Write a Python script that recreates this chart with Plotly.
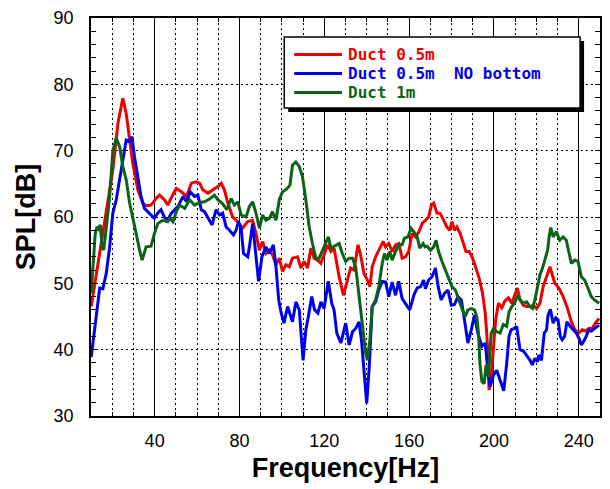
import plotly.graph_objects as go

# ---------------- data ----------------
red_f = [10.1, 12.5, 16.4, 20.3, 22.7, 25.0, 26.6, 28.2, 29.7, 32.1, 34.4, 36.0, 38.3, 40.7, 42.3, 44.6,
         46.2, 47.7, 50.2, 52.6, 55.0, 57.3, 59.6, 61.2, 62.7, 65.1, 67.4, 69.8, 71.4, 72.9, 74.5, 76.8,
         79.2, 81.5, 83.9, 86.2, 87.8, 89.4, 90.9, 92.5, 94.1, 95.6, 97.2, 98.8, 100.3, 101.9, 103.5,
         105.0, 107.4, 109.0, 110.5, 112.1, 113.7, 115.2, 116.8, 118.4, 119.9, 121.5, 123.1, 124.6,
         127.0, 129.0, 130.9, 132.4, 134.0, 135.9, 137.1, 138.7, 140.3, 141.5, 142.6, 144.2, 146.5,
         147.8, 148.9, 150.4, 152.0, 153.6, 155.1, 156.7, 158.3, 159.8, 161.4, 163.0, 164.5, 166.3,
         167.7, 169.2, 170.5, 171.6, 173.1, 174.7, 176.3, 177.8, 179.1, 180.2, 181.4, 182.5, 184.1,
         185.7, 186.8, 188.3, 189.9, 191.5, 193.0, 194.6, 195.9, 196.8, 197.7, 198.7, 199.8, 200.8,
         202.1, 203.7, 205.1, 206.8, 208.4, 210.0, 211.0, 212.3, 213.9, 215.4, 217.0, 218.5, 220.1,
         221.7, 223.2, 224.8, 226.4, 227.5, 228.7, 230.6, 232.6, 234.7, 236.5, 238.1, 240.0, 241.6,
         243.1, 244.7, 246.3, 247.8, 249.6]
red_db = [46.5, 51.5, 59.0, 67.1, 74.1, 77.9, 75.6, 72.1, 68.1, 64.1, 62.1, 61.7, 61.8, 62.8, 63.3, 62.6,
          61.8, 62.8, 64.3, 63.8, 63.1, 65.1, 65.3, 65.1, 64.1, 63.6, 64.1, 64.6, 65.1, 64.1, 62.1, 60.0,
          59.3, 58.3, 59.3, 59.5, 57.5, 55.0, 56.3, 54.5, 55.0, 54.3, 52.8, 53.8, 51.8, 52.8, 52.5,
          53.8, 54.0, 52.3, 53.3, 52.3, 55.3, 53.8, 53.5, 53.0, 54.3, 55.8, 54.8, 55.3,
          51.0, 48.2, 50.5, 52.3, 52.0, 55.8, 54.3, 51.5, 50.5, 49.5, 52.5, 54.0, 55.5,
          56.3, 55.5, 56.0, 54.8, 55.8, 56.0, 53.8, 54.0, 54.8, 57.5, 57.0, 57.7, 59.1,
          59.5, 60.0, 61.8, 62.1, 60.6, 60.5, 59.5, 58.5, 58.0, 59.3, 58.0, 58.5, 57.5,
          56.0, 54.8, 54.8, 53.8, 52.3, 50.8, 48.5, 45.5, 41.5, 33.9, 35.9, 41.0, 44.5,
          47.0, 46.3, 47.3, 47.8, 47.0, 48.5, 49.3, 47.5, 46.7, 46.5, 46.5, 46.7, 46.2,
          47.0, 49.5, 51.0, 52.5, 51.3, 50.0, 49.3, 48.0, 46.2, 44.2, 43.0, 42.5, 43.0,
          42.8, 43.2, 43.2, 44.0, 44.7]

blue_f = [10.1, 12.5, 14.1, 15.6, 17.2, 18.8, 20.3, 21.9, 23.5, 25.0, 26.6, 28.2, 29.3, 30.5, 32.1, 33.6,
          35.2, 37.6, 39.9, 41.5, 43.0, 44.6, 46.2, 47.7, 49.4, 51.0, 53.4, 55.0, 56.8, 58.8, 60.4, 62.0,
          63.5, 65.1, 67.1, 69.0, 70.6, 72.1, 73.7, 75.3, 77.2, 78.4, 79.5, 80.8, 81.9, 83.9, 84.7,
          86.2, 87.5, 89.0, 90.6, 92.5, 94.1, 96.0, 97.2, 98.5, 99.7, 101.0, 102.7, 103.8, 105.0,
          106.6, 108.2, 110.0, 111.3, 112.5, 114.1, 115.4, 117.0, 118.4, 119.9, 121.9, 123.5, 124.6,
          125.9, 127.8, 130.1, 131.7, 133.3, 134.8, 136.4, 137.5, 138.7, 140.0, 141.2, 142.6, 144.2,
          145.7, 147.3, 148.9, 150.4, 152.0, 153.6, 155.1, 156.7, 158.3, 160.3, 162.2, 163.8, 165.4,
          166.8, 167.7, 169.2, 170.8, 172.4, 173.7, 175.1, 176.7, 178.3, 179.9, 181.4, 183.0, 184.6,
          186.1, 187.7, 189.3, 190.8, 192.4, 194.3, 195.9, 197.1, 198.2, 199.8, 201.3, 202.7, 204.6,
          206.0, 207.1, 208.1, 209.6, 210.7, 212.3, 213.9, 215.4, 217.0, 218.1, 219.3, 220.5, 221.2,
          222.4, 223.7, 224.8, 225.5, 226.6, 227.9, 229.1, 230.2, 231.3, 232.2, 233.3, 234.4, 236.0,
          237.2, 238.8, 240.1, 241.2, 242.2, 243.5, 244.7, 245.9, 247.4, 249.6]
blue_db = [38.9, 45.5, 49.3, 49.2, 51.5, 55.5, 60.6, 62.6, 65.6, 68.1, 71.6, 71.4, 72.1, 69.1, 65.6, 63.1,
           61.3, 60.6, 59.8, 60.6, 61.1, 60.0, 59.5, 60.5, 61.0, 61.6, 63.1, 62.3, 63.8, 63.1, 63.3, 61.1,
           60.8, 60.0, 58.8, 61.1, 60.3, 60.6, 58.5, 58.0, 57.3, 58.0, 59.3, 58.3, 54.5, 54.0, 55.5,
           59.0, 55.0, 50.3, 54.0, 55.5, 54.5, 55.8, 52.5, 47.5, 45.5, 44.0, 46.5, 45.2, 44.2,
           47.2, 46.0, 38.4, 43.0, 45.0, 48.0, 46.0, 45.5, 47.2, 46.2, 50.3, 47.0, 46.0,
           42.5, 41.0, 44.0, 40.7, 42.7, 43.2, 44.2, 41.5, 36.4, 31.9, 37.4, 46.5, 47.2,
           49.0, 50.3, 50.2, 48.0, 50.2, 48.2, 50.3, 47.7, 47.0, 46.0, 48.2, 49.3, 49.5,
           50.5, 49.2, 50.5, 51.0, 52.3, 49.5, 47.5, 48.5, 49.0, 46.7, 46.8, 48.0, 47.5,
           44.5, 41.0, 43.0, 45.2, 42.5, 40.5, 41.0, 36.9, 34.4, 36.2, 36.9, 35.6, 33.8,
           37.9, 42.0, 43.0, 43.2, 43.5, 40.0, 39.8, 39.2, 38.4, 37.7, 38.7, 38.2, 39.2,
           38.4, 42.5, 43.0, 45.2, 46.1, 44.0, 44.8, 44.5, 42.0, 41.5, 42.0, 44.2, 43.5,
           43.0, 42.5, 41.7, 40.7, 41.2, 42.0, 43.0, 42.8, 43.2, 43.7]

green_f = [10.1, 11.0, 12.0, 12.8, 13.6, 14.4, 15.2, 16.0, 16.8, 17.6, 18.8, 20.3, 21.9, 23.5, 25.0, 26.6,
           28.2, 29.7, 31.3, 32.9, 34.1, 36.0, 38.3, 39.9, 41.5, 43.8, 46.2, 47.1, 48.7, 50.2, 51.8,
           54.2, 56.5, 58.8, 61.2, 63.5, 65.9, 68.2, 69.8, 72.1, 74.0, 76.1, 77.6, 79.2, 80.8, 83.1,
           84.7, 86.2, 87.8, 89.4, 90.9, 92.5, 94.1, 95.6, 97.2, 98.8, 100.3, 102.2, 103.8, 105.0,
           106.6, 108.2, 109.7, 111.3, 112.9, 114.4, 116.0, 117.6, 119.1, 120.7, 121.9, 123.1, 124.6,
           127.0, 128.5, 130.1, 131.7, 133.3, 134.8, 136.4, 138.0, 139.5, 140.3, 141.5, 142.6, 144.2,
           145.7, 147.3, 148.4, 149.6, 150.9, 152.0, 153.6, 155.1, 156.7, 157.8, 159.4, 160.9, 162.2,
           163.8, 165.0, 166.6, 167.5, 168.5, 170.1, 171.6, 172.7, 173.9, 175.5, 177.1, 178.6, 180.2,
           181.8, 183.3, 184.9, 186.5, 187.7, 189.3, 190.8, 191.9, 192.7, 193.4, 194.3, 195.4, 196.3,
           197.4, 198.7, 199.8, 201.3, 202.9, 204.4, 206.0, 207.1, 208.4, 210.0, 211.2, 212.3, 213.9,
           215.4, 217.0, 218.2, 219.3, 220.5, 221.7, 222.9, 224.0, 225.3, 226.0, 226.8, 227.9, 229.4,
           231.0, 232.6, 234.1, 235.2, 236.5, 238.1, 239.6, 241.2, 242.7, 244.3, 245.9, 247.4, 249.6]
green_db = [48.5, 52.5, 57.5, 58.5, 58.2, 58.8, 55.5, 55.0, 57.0, 59.5, 63.1, 70.0, 71.9, 70.6, 67.6, 65.6,
            62.1, 60.0, 57.5, 55.0, 53.5, 55.5, 55.6, 57.5, 59.0, 59.5, 59.3, 59.8, 59.3, 60.8, 61.8,
            61.3, 62.6, 61.8, 62.2, 62.3, 62.7, 63.3, 62.6, 62.0, 61.1, 62.8, 61.8, 62.3, 60.3, 60.0,
            61.6, 62.3, 60.6, 58.3, 60.3, 59.5, 59.8, 60.8, 59.5, 62.6, 63.8, 64.2, 64.8, 67.8,
            68.3, 67.6, 66.1, 62.6, 58.5, 56.0, 53.8, 53.8, 55.0, 56.3, 57.0, 55.3, 55.6,
            56.0, 54.5, 53.3, 53.8, 53.8, 52.5, 48.0, 43.5, 39.5, 38.4, 41.5, 46.5, 47.5,
            49.5, 53.0, 54.5, 53.5, 54.8, 53.5, 54.8, 55.8, 55.8, 56.8, 57.0, 58.3, 57.8,
            57.0, 55.3, 56.0, 55.5, 55.6, 55.0, 55.5, 56.5, 54.8, 53.3, 52.0, 51.0, 49.5,
            49.0, 47.5, 46.2, 45.0, 46.0, 46.2, 46.0, 45.0, 42.5, 37.9, 35.2, 34.9, 37.7,
            35.9, 42.5, 43.2, 42.7, 42.5, 43.8, 43.5, 45.7, 46.5, 47.2, 48.2, 47.5, 47.0,
            47.2, 46.5, 46.2, 47.5, 49.5, 51.3, 52.3, 53.5, 55.0, 57.0, 58.4, 57.0, 57.8,
            56.5, 57.0, 56.5, 54.8, 53.0, 53.5, 53.3, 51.0, 50.5, 49.3, 48.0, 47.5, 47.0]

series_names = ["Duct 0.5m", "Duct 0.5m\u00a0\u00a0NO bottom", "Duct 1m"]
series_colors = ["#ee0000", "#0000ee", "#0b6416"]
series_x = [red_f, blue_f, green_f]
series_y = [red_db, blue_db, green_db]

x_range = [10, 250]
y_range = [30, 90]

# ---------------- figure ----------------
fig = go.Figure()
for name, col, xs, ys in zip(series_names, series_colors, series_x, series_y):
    fig.add_trace(go.Scatter(x=xs, y=ys, mode="lines", name=name,
                             line=dict(color=col, width=3), showlegend=False))

W, H = 610, 489
ML, MR, MT, MB = 91, 8, 18, 73
PW, PH = W - ML - MR, H - MT - MB


def px2paper(px, py):
    return (px - ML) / PW, (H - MB - py) / PH


tickfont = dict(family="Liberation Sans, Arial", size=18, color="black")
titlefont = dict(family="Liberation Sans, Arial", size=27, color="black", weight="bold")

fig.update_layout(
    width=W, height=H,
    margin=dict(l=ML, r=MR, t=MT, b=MB, pad=0),
    paper_bgcolor="white", plot_bgcolor="white",
    showlegend=False,
    xaxis=dict(
        range=x_range, tick0=0, dtick=40, ticks="inside", ticklen=5, tickcolor="black",
        showline=True, linewidth=1.5, linecolor="black", mirror="allticks",
        showgrid=True, gridcolor="black", gridwidth=1, zeroline=False,
        tickfont=tickfont, ticklabelstandoff=8,
        minor=dict(tick0=0, dtick=10, ticks="inside", ticklen=4, tickcolor="black",
                   showgrid=True, gridcolor="black", gridwidth=1, griddash="2px,3px"),
        title=dict(text="Frequency[Hz]", font=titlefont, standoff=8),
    ),
    yaxis=dict(
        range=y_range, tick0=0, dtick=10, ticks="inside", ticklen=5, tickcolor="black",
        showline=True, linewidth=1.5, linecolor="black", mirror="allticks",
        showgrid=True, gridcolor="black", gridwidth=1, griddash="2px,3px", zeroline=False,
        tickfont=tickfont, ticklabelstandoff=12,
        minor=dict(tick0=0, dtick=2, ticks="inside", ticklen=5, tickcolor="black", showgrid=False),
        title=dict(text="SPL[dB]", font=titlefont, standoff=10),
    ),
)

# ---------------- legend box (drawn manually) ----------------
bx0, by1 = px2paper(285, 37)
bx1, by0 = px2paper(582, 108)
sx, sy = 4 / PW, 4 / PH
fig.add_shape(type="rect", xref="paper", yref="paper", x0=bx0 + sx, x1=bx1 + sx, y0=by0 - sy, y1=by1 - sy,
              fillcolor="black", line=dict(width=0), layer="above")
fig.add_shape(type="rect", xref="paper", yref="paper", x0=bx0, x1=bx1, y0=by0, y1=by1,
              fillcolor="white", line=dict(color="black", width=1.5), layer="above")
row_y = [54.5, 73.5, 92.5]
for name, col, ry in zip(series_names, series_colors, row_y):
    lx0, ly = px2paper(295, ry)
    lx1, _ = px2paper(343, ry)
    fig.add_shape(type="line", xref="paper", yref="paper", x0=lx0, x1=lx1, y0=ly, y1=ly,
                  line=dict(color=col, width=3), layer="above")
    tx, _ = px2paper(348, ry)
    fig.add_annotation(xref="paper", yref="paper", x=tx, y=ly, text=name, showarrow=False,
                       xanchor="left", yanchor="middle", borderpad=0,
                       font=dict(family="DejaVu Sans Mono", size=16, color=col, weight="bold"))

fig.write_html("out.html")
